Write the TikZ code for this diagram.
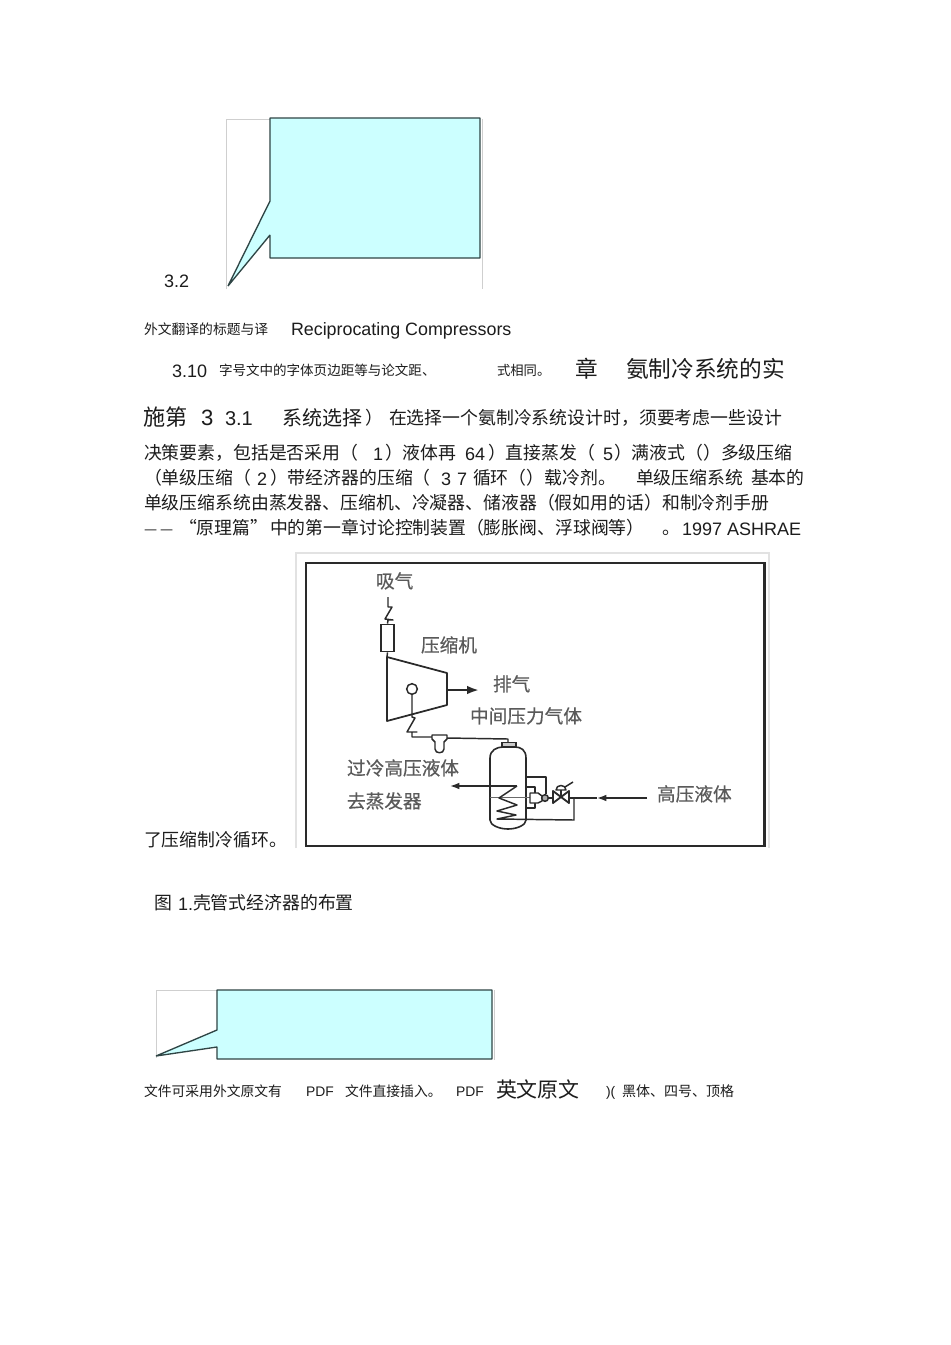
\documentclass[tikz,border=0pt]{standalone}
\usepackage{fontspec}
\usetikzlibrary{arrows.meta}
\setmainfont{Liberation Sans}
\newfontfamily\cjk{Noto Sans CJK SC}
\newfontfamily\cjkheavy[FakeBold=0.5]{Noto Sans CJK SC}
\definecolor{callfill}{HTML}{CCFFFF}
\definecolor{callline}{HTML}{2F4545}
\definecolor{ghost}{HTML}{CFCFCF}
\definecolor{ink}{HTML}{1C1C1C}
\definecolor{schem}{HTML}{2A2A2A}
\definecolor{schemtext}{HTML}{5A5A5A}
\tikzset{
  x=0.75pt,y=-0.75pt,
  tx/.style={anchor=base west,inner sep=0pt,outer sep=0pt,text=ink},
  lbl/.style={anchor=base west,inner sep=0pt,outer sep=0pt,text=schemtext},
  callout/.style={draw=callline,fill=callfill,line width=1pt,line join=bevel},
  ghostline/.style={draw=ghost,line width=0.75pt},
  pipe/.style={draw=schem,line width=1.1pt,line join=round},
  thin pipe/.style={draw=schem!70,line width=0.7pt},
  frame/.style={draw=schem,line width=1.6pt}
}
% name, x, y (px), size (pt), text
\newcommand{\Lt}[5]{\node[tx] (#1) at (#2,#3) {\fontsize{#4}{#4}\selectfont #5};}
\newcommand{\Cj}[5]{\node[tx] (#1) at (#2,#3) {\fontsize{#4}{#4}\selectfont\cjk #5};}
\newcommand{\Sc}[4]{\node[lbl] (#1) at (#2,#3) {\fontsize{14}{14}\selectfont\cjkheavy #4};}
\begin{document}
\begin{tikzpicture}
\useasboundingbox[fill=white] (0,0) rectangle (950,1345);

% ---------- top callout
\path[ghostline] (226,289) -- (226,119) -- (270,119);
\path[ghostline] (482,119) -- (482,289);
\path[callout] (270,118) -- (480,118) -- (480,258) -- (270,258) -- (270,235) -- (228,286) -- (270,201) -- cycle;

\Lt{a1}{164}{287}{13.5}{3.2}
\Cj{a2}{144}{334}{10.35}{外文翻译的标题与译}
\Lt{a3}{291}{335}{13.4}{Reciprocating Compressors}

\Lt{b1}{172}{377}{13.5}{3.10}
\Cj{b2}{219}{375}{10.15}{字号文中的字体页边距等与论文距、}
\Cj{b3}{497}{375}{10}{式相同。}
\Cj{b4}{575}{377}{17}{章}
\Cj{b5}{626}{377}{17}{氨制冷系统的实}

\Cj{c1}{143}{425}{16.6}{施第}
\Lt{c2}{201}{425}{16.6}{3}
\Lt{c3}{225}{425}{15}{3.1}
\Cj{c4}{282}{425}{15}{系统选择}
\Cj{c5}{365}{424}{13.4}{）}
\Cj{c6}{389}{424}{13.4}{在选择一个氨制冷系统设计时，须要考虑一些设计}

\Cj{d1}{144}{459}{13.4}{决策要素，包括是否采用（}
\Lt{d2}{373}{460}{13.5}{1}
\Cj{d3}{385}{459}{13.4}{）液体再}
\Lt{d4}{465}{460}{13.5}{64}
\Cj{d5}{488}{459}{13.4}{）直接蒸发（}
\Lt{d6}{603}{460}{13.5}{5}
\Cj{d7}{614}{459}{13.4}{）满液式（）}
\Cj{d8}{721}{459}{13.4}{多级压缩}

\Cj{e1}{144}{484}{13.4}{（单级压缩（}
\Lt{e2}{257}{485}{13.5}{2}
\Cj{e3}{270}{484}{13.4}{）带经济器的压缩（}
\Lt{e4}{441}{485}{13.5}{3}
\Lt{e5}{457}{485}{13.5}{7}
\Cj{e6}{473}{484}{13.4}{循环（）载冷剂。}
\Cj{e7}{636}{484}{13.4}{单级压缩系统}
\Cj{e8}{751}{484}{13.4}{基本的}

\Cj{f1}{144}{509}{13.4}{单级压缩系统由蒸发器、压缩机、冷凝器、储液器（假如用的话）和制冷剂手册}

\Cj{g1}{144}{534}{11}{—}
\Cj{g2}{160}{534}{11}{—}
\Cj{g3}{179}{534}{13.4}{“原理篇”}
\Cj{g4}{270}{534}{13.4}{中的第一章讨论控制装置}
\Cj{g5}{466}{534}{13.4}{（膨胀阀、浮球阀等）}
\Cj{g6}{662}{534}{13.4}{。}
\Lt{g7}{682}{535}{13.5}{1997 ASHRAE}

% ---------- figure
\path[draw=ghost!60,line width=1pt] (296,848) -- (296,553) -- (769,553) -- (769,848);
\path[frame] (306,563) rectangle (764.5,846);

% suction line with check valve, filter
\coordinate (sucTop) at (388,597);
\coordinate (sucZ1) at (388,607);
\node[draw=schem,line width=1.1pt,fill=white,minimum width=9.8pt,minimum height=20.5pt,inner sep=0pt] (suc) at (387.5,638) {};
\path[pipe] (sucTop) -- (sucZ1) -- (392,607) -- (385,619) -- (393,620) -- (388,620) -- (suc.north);
\coordinate (compA) at (387,657);
\coordinate (compB) at (447,673);
\coordinate (compC) at (447,705);
\coordinate (compD) at (387,721);
\path[pipe,line width=1.3pt] (compA) -- (compB) -- (compC) -- (compD) -- cycle;
\path[pipe] (suc.south) -- (compA);

% exhaust
\coordinate (exhEnd) at (479,690);
\path[draw=schem,line width=1.7pt,-{Latex[length=9pt,width=6.5pt]}] (447,690) -- (exhEnd);

% shaft
\node[draw=schem,line width=1.1pt,circle,minimum size=8pt,inner sep=0pt] (shaft) at (412,689) {};
\coordinate (dis1) at (412,717);
\coordinate (dis2) at (412,737);
\coordinate (fil) at (432,737);
\path[pipe] (shaft.south) -- (dis1) -- (415,718) -- (407,732) -- (417,732) -- (412,732) -- (dis2) -- (fil);
\path[pipe,fill=white] (432,735) -- (447,735) -- (447,739) -- (444,742) -- (444,749)
  .. controls (444,754) and (435,754) .. (435,749) -- (435,742) -- (432,739) -- cycle;
\coordinate (capTop) at (508,739);
\path[pipe] (447,738) -- (capTop) -- (508,743);
\node[draw=schem,line width=1.1pt,fill=schem!25,minimum width=10.5pt,minimum height=3.5pt,inner sep=0pt] (cap) at (509,745) {};

% vessel
\path[pipe,line width=1.2pt] (490,758) .. controls (490,750) and (497,747) .. (503,747) -- (515,747)
  .. controls (521,747) and (526,750) .. (526,758) -- (526,820)
  .. controls (526,825) and (517,829) .. (508,829) .. controls (499,829) and (490,825) .. (490,820) -- cycle;
\path[thin pipe] (490,797) -- (530,797);

% outlet coil
\coordinate (coilTop) at (517,786);
\coordinate (outEnd) at (450,786);
\path[pipe,-{Latex[length=7pt,width=5pt]}] (coilTop) -- (outEnd);
\coordinate (coilOut) at (574,820);
\coordinate (coilBk) at (574,798);
\path[pipe] (coilTop) -- (499,798) -- (517,805) -- (497,811) -- (516,815) -- (497,819) -- (coilOut) -- (coilBk);

% expansion block and valve
\path[pipe] (526,777) -- (546,777) -- (546,794);
\path[pipe] (526,787) -- (535,787) -- (535,808) -- (526,808);
\path[pipe,fill=white] (530,793) -- (538,793) -- (542,796) -- (542,801) -- (538,803) -- (530,803) -- cycle;
\node[draw=schem,line width=1.1pt,circle,minimum size=5pt,inner sep=0pt,fill=schem!40] (bulb) at (545,798) {};
\path[pipe,line width=1.4pt,fill=white] (553,791) -- (569,803) -- (569,791) -- (553,803) -- cycle;
\path[pipe] (561,797) -- (561,790);
\path[pipe,fill=white] (556,790) .. controls (556,784) and (566,784) .. (566,790) -- cycle;
\coordinate (tick) at (573,782);
\path[pipe] (565,787) -- (tick);
\path[pipe] (bulb) -- (553,798);

% inlet
\coordinate (inStart) at (647,798);
\coordinate (inMid) at (597,798);
\path[pipe,-{Latex[length=7pt,width=5pt]}] (inStart) -- (inMid);
\path[pipe] (inMid) -- (569,798);

% figure labels
\Sc{s1}{376}{588}{吸气}
\Sc{s2}{421}{652}{压缩机}
\Sc{s3}{493}{691}{排气}
\Sc{s4}{470}{723}{中间压力气体}
\Sc{s5}{347}{775}{过冷高压液体}
\Sc{s6}{347}{808}{去蒸发器}
\Sc{s7}{657}{801}{高压液体}

\Cj{h1}{144}{846}{13.4}{了压缩制冷循环。}
\Cj{h2}{154}{909}{13.4}{图}
\Lt{h3}{178}{910}{13.5}{1.}
\Cj{h4}{193}{909}{13.4}{壳管式经济器的布置}

% ---------- lower callout
\path[ghostline] (156,1058) -- (156,990) -- (217,990);
\path[ghostline] (494,990) -- (494,1060);
\path[callout] (217,990) -- (492,990) -- (492,1059) -- (217,1059) -- (217,1047) -- (156,1056) -- (217,1030) -- cycle;

\Cj{k1}{144}{1096}{10.35}{文件可采用外文原文有}
\Lt{k2}{306}{1096}{10.4}{PDF}
\Cj{k3}{345}{1096}{10.35}{文件直接插入。}
\Lt{k4}{456}{1096}{10.4}{PDF}
\Cj{k5}{496}{1097}{15.7}{英文原文}
\Lt{k6}{606}{1096}{10.4}{)(}
\Cj{k7}{622}{1096}{10.5}{黑体、四号、顶格}
\end{tikzpicture}
\end{document}
